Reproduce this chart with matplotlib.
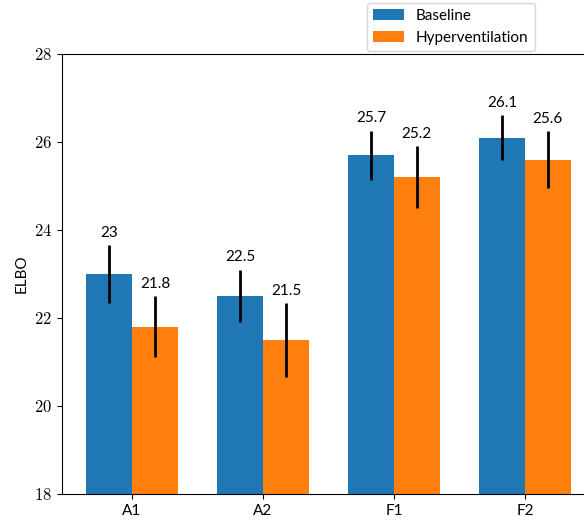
import numpy as np
import matplotlib
matplotlib.use('Agg')
import matplotlib.pyplot as plt
from matplotlib.ticker import FuncFormatter

plt.rcParams['font.family'] = ['Lato', 'DejaVu Sans']
plt.rcParams['mathtext.fontset'] = 'cm'

categories = ['A1', 'A2', 'F1', 'F2']
baseline = [23.0, 22.5, 25.7, 26.1]
baseline_err = [0.65, 0.6, 0.56, 0.51]
hyper = [21.8, 21.5, 25.2, 25.6]
hyper_err = [0.69, 0.83, 0.7, 0.65]

fig = plt.figure(figsize=(5.84, 5.26), dpi=100)
ax = fig.add_axes([62 / 584, 32 / 526, 533 / 584, 440 / 526])

x = np.arange(len(categories))
w = 0.35
b1 = ax.bar(x - w / 2, baseline, w, yerr=baseline_err, color='#1f77b4',
            ecolor='black', error_kw=dict(elinewidth=2), label='Baseline')
b2 = ax.bar(x + w / 2, hyper, w, yerr=hyper_err, color='#ff7f0e',
            ecolor='black', error_kw=dict(elinewidth=2), label='Hyperventilation')

for xs, vals, errs in [(x - w / 2, baseline, baseline_err), (x + w / 2, hyper, hyper_err)]:
    for xi, v, e in zip(xs, vals, errs):
        ax.text(xi, v + e + 0.12, f'{v:g}', ha='center', va='bottom', fontsize=11)

ax.set_ylim(18, 28)
ax.set_xlim(-0.535, 3.535)
ax.set_xticks(x)
ax.set_xticklabels(categories, fontsize=11)
ax.yaxis.set_major_formatter(FuncFormatter(lambda v, p: f'${v:g}$'))
ax.tick_params(axis='y', labelsize=12)
ax.set_ylabel('ELBO', fontsize=11)

ax.legend(loc='upper left', bbox_to_anchor=(367 / 584, 1 - 3 / 526),
          bbox_transform=fig.transFigure, borderaxespad=0, fontsize=11)

fig.savefig('out.png', dpi=100)
